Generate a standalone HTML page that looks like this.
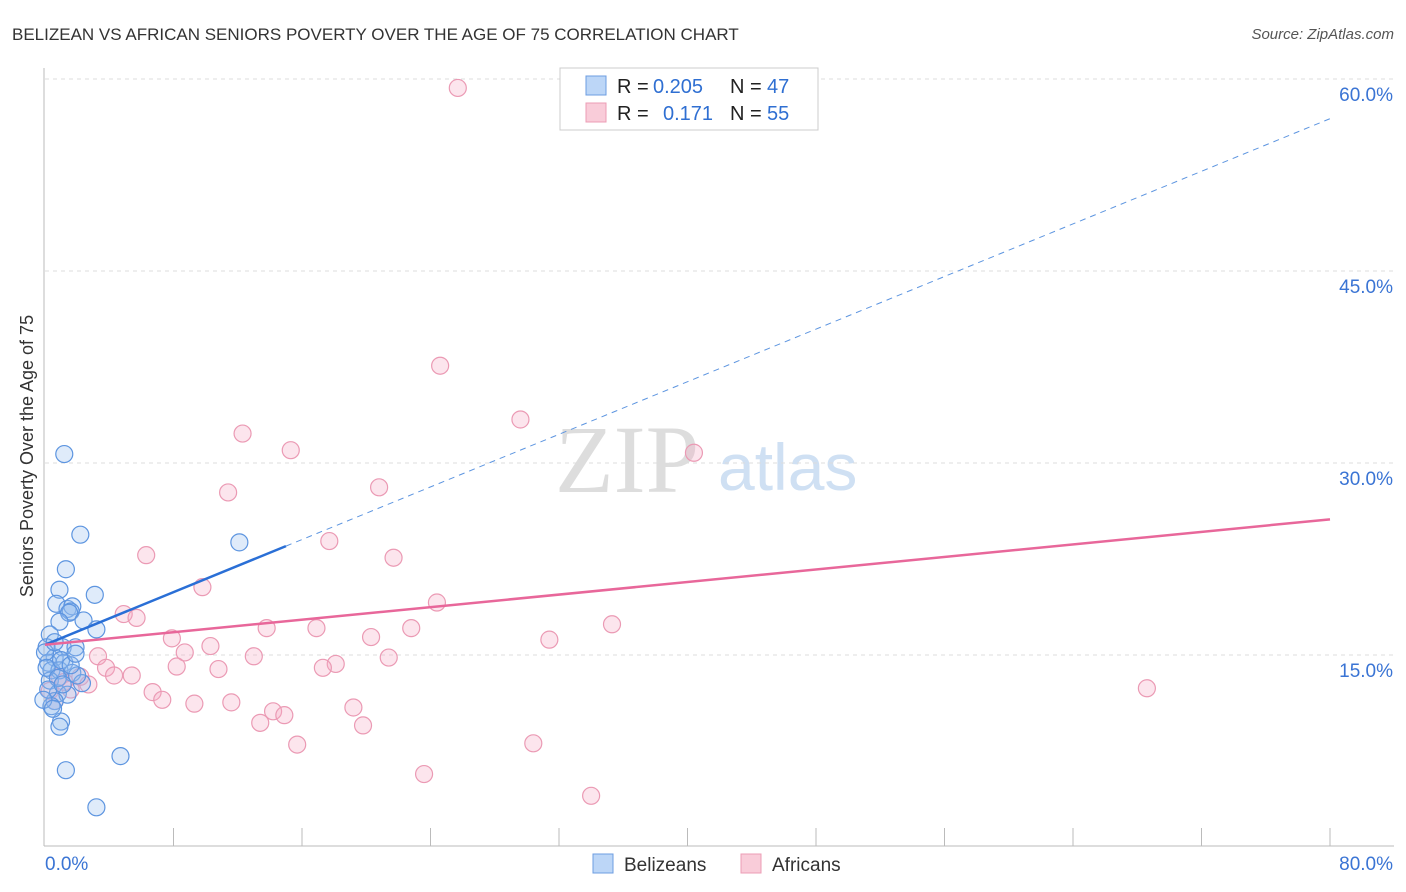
<!DOCTYPE html>
<html><head><meta charset="utf-8"><style>
body{margin:0;background:#fff;font-family:"Liberation Sans",sans-serif;}
#wrap{position:relative;width:1406px;height:892px;overflow:hidden;}
</style></head><body>
<div id="wrap">
<svg id="svg" width="1406" height="892" xmlns="http://www.w3.org/2000/svg">
<text x="12" y="40" font-size="17" fill="#333">BELIZEAN VS AFRICAN SENIORS POVERTY OVER THE AGE OF 75 CORRELATION CHART</text>
<text x="1394" y="39" font-size="15" fill="#555" font-style="italic" text-anchor="end">Source: ZipAtlas.com</text>
<text x="33" y="456" font-size="18" fill="#333" text-anchor="middle" transform="rotate(-90 33 456)">Seniors Poverty Over the Age of 75</text>
<text x="555" y="492" font-size="96" fill="#ddd" font-family="Liberation Serif,serif">ZIP</text>
<text x="718" y="490" font-size="66" fill="#cfe0f3">atlas</text>
<g id="grid"></g><g id="axes"></g><g id="pts"></g><g id="lines"></g>
<g>
<rect x="560" y="68" width="258" height="62" fill="#fff" stroke="#ccc"/>
<rect x="586" y="76" width="20" height="19" fill="#bcd6f7" stroke="#6d9de0"/>
<rect x="586" y="103" width="20" height="19" fill="#f9ccd9" stroke="#ec9db5"/>
<text x="617" y="93" font-size="20" fill="#222">R =</text>
<text x="653" y="93" font-size="20" fill="#2f6fd2">0.205</text>
<text x="730" y="93" font-size="20" fill="#222">N =</text>
<text x="767" y="93" font-size="20" fill="#2f6fd2">47</text>
<text x="617" y="120" font-size="20" fill="#222">R =</text>
<text x="663" y="120" font-size="20" fill="#2f6fd2">0.171</text>
<text x="730" y="120" font-size="20" fill="#222">N =</text>
<text x="767" y="120" font-size="20" fill="#2f6fd2">55</text>
</g>
<g>
<rect x="593" y="854" width="20" height="19" fill="#bcd6f7" stroke="#6d9de0"/>
<text x="624" y="871" font-size="19" fill="#333">Belizeans</text>
<rect x="741" y="854" width="20" height="19" fill="#f9ccd9" stroke="#ec9db5"/>
<text x="772" y="871" font-size="19" fill="#333">Africans</text>
</g>
</svg>
</div>
<script>
const yTicks=[15,30,45,60];
const xTickLabels=["0.0%","80.0%"];
const blueX=[1.2,2.2,1.3,0.9,3.1,0.7,1.4,1.7,1.6,1.5,2.4,0.9,3.2,0.3,0.1,1.1,1.9,0.6,0.2,1.2,0.4,0.9,1.7,0.3,2.3,0.8,1.4,0.6,0.4,1.0,0.9,1.3,4.7,3.2,12.1,0.0,0.6,2.0,0.1,0.8,0.2,-0.1,0.5,1.0,1.6,1.9,1.1];
const blueY=[30.7,24.4,21.7,20.1,19.7,19.0,18.6,18.8,18.4,18.3,17.7,17.6,17.0,16.6,15.6,15.6,15.6,14.8,14.4,14.4,13.8,13.8,13.6,13.0,12.8,12.0,11.9,11.4,11.0,9.8,9.4,6.0,7.1,3.1,23.8,15.2,16.0,13.4,14.0,13.2,12.3,11.5,10.8,14.6,14.2,15.1,12.7];
const pinkX=[25.7,24.6,29.6,40.4,12.3,15.3,11.4,20.8,17.7,6.3,21.7,9.8,24.4,4.9,5.7,13.8,16.9,22.8,35.3,31.4,20.3,7.9,10.3,8.7,13.0,21.4,3.3,18.1,17.3,8.2,10.8,3.8,5.4,4.3,2.2,2.7,0.9,6.7,7.3,9.3,11.6,14.2,14.9,19.2,19.8,13.4,15.7,30.4,23.6,34.0,68.6,0.3,0.6,1.6,1.2];
const pinkY=[59.3,37.6,33.4,30.8,32.3,31.0,27.7,28.1,23.9,22.8,22.6,20.3,19.1,18.2,17.9,17.1,17.1,17.1,17.4,16.2,16.4,16.3,15.7,15.2,14.9,14.8,14.9,14.3,14.0,14.1,13.9,14.0,13.4,13.4,13.3,12.7,13.3,12.1,11.5,11.2,11.3,10.6,10.3,10.9,9.5,9.7,8.0,8.1,5.7,4.0,12.4,12.2,11.4,12.3,12.9];
const blueTrend=[15.8,56.9];
const pinkTrend=[15.8,25.6];
const NS="http://www.w3.org/2000/svg";
const sx=v=>45+v/80*1285, sy=v=>847-v/15*192;
function mk(t,a,p){const e=document.createElementNS(NS,t);for(const k in a)e.setAttribute(k,a[k]);p.appendChild(e);return e;}
const grid=document.getElementById('grid'),axes=document.getElementById('axes');
yTicks.forEach(t=>{
 const l=mk('line',{x1:45,x2:1394,y1:sy(t),y2:sy(t),stroke:'#ddd','stroke-dasharray':'4,4'},grid);
 
 
 const tx=mk('text',{x:1393,y:sy(t)+22,'font-size':19,fill:'#3a74d4','text-anchor':'end'},axes);
 tx.textContent=t.toFixed(1)+'%';
 
 
});
mk('line',{x1:44,x2:44,y1:68,y2:846,stroke:'#bbb'},axes);
mk('line',{x1:44,x2:1394,y1:846,y2:846,stroke:'#bbb'},axes);
for(let i=1;i<=10;i++){const x=sx(i*8);mk('line',{x1:x,x2:x,y1:828,y2:846,stroke:'#bbb'},axes);}
const x0=mk('text',{x:45,y:870,'font-size':19,fill:'#3a74d4'},axes);x0.textContent=xTickLabels[0];


const x1=mk('text',{x:1393,y:870,'font-size':19,fill:'#3a74d4','text-anchor':'end'},axes);x1.textContent=xTickLabels[1];


const pts=document.getElementById('pts');
pinkX.forEach((v,i)=>{const c=mk('circle',{cx:sx(v),cy:sy(pinkY[i]),r:8.5,fill:'rgba(246,170,195,0.3)',stroke:'#eb9ab4','stroke-width':1.2},pts);
 
 });
blueX.forEach((v,i)=>{const c=mk('circle',{cx:sx(v),cy:sy(blueY[i]),r:8.5,fill:'rgba(150,190,240,0.3)',stroke:'#5d95e0','stroke-width':1.2},pts);
 
 });
const lines=document.getElementById('lines');
const bAt=x=>blueTrend[0]+(blueTrend[1]-blueTrend[0])*x/80;
let l1=mk('line',{x1:sx(0),y1:sy(bAt(0)),x2:sx(15),y2:sy(bAt(15)),stroke:'#2a6fd6','stroke-width':2.5},lines);


let l2=mk('line',{x1:sx(15),y1:sy(bAt(15)),x2:sx(80),y2:sy(bAt(80)),stroke:'#5d95e0','stroke-width':1,'stroke-dasharray':'6,5'},lines);


let l3=mk('line',{x1:sx(0),y1:sy(pinkTrend[0]),x2:sx(80),y2:sy(pinkTrend[1]),stroke:'#e8679a','stroke-width':2.5},lines);


</script>
</body></html>
